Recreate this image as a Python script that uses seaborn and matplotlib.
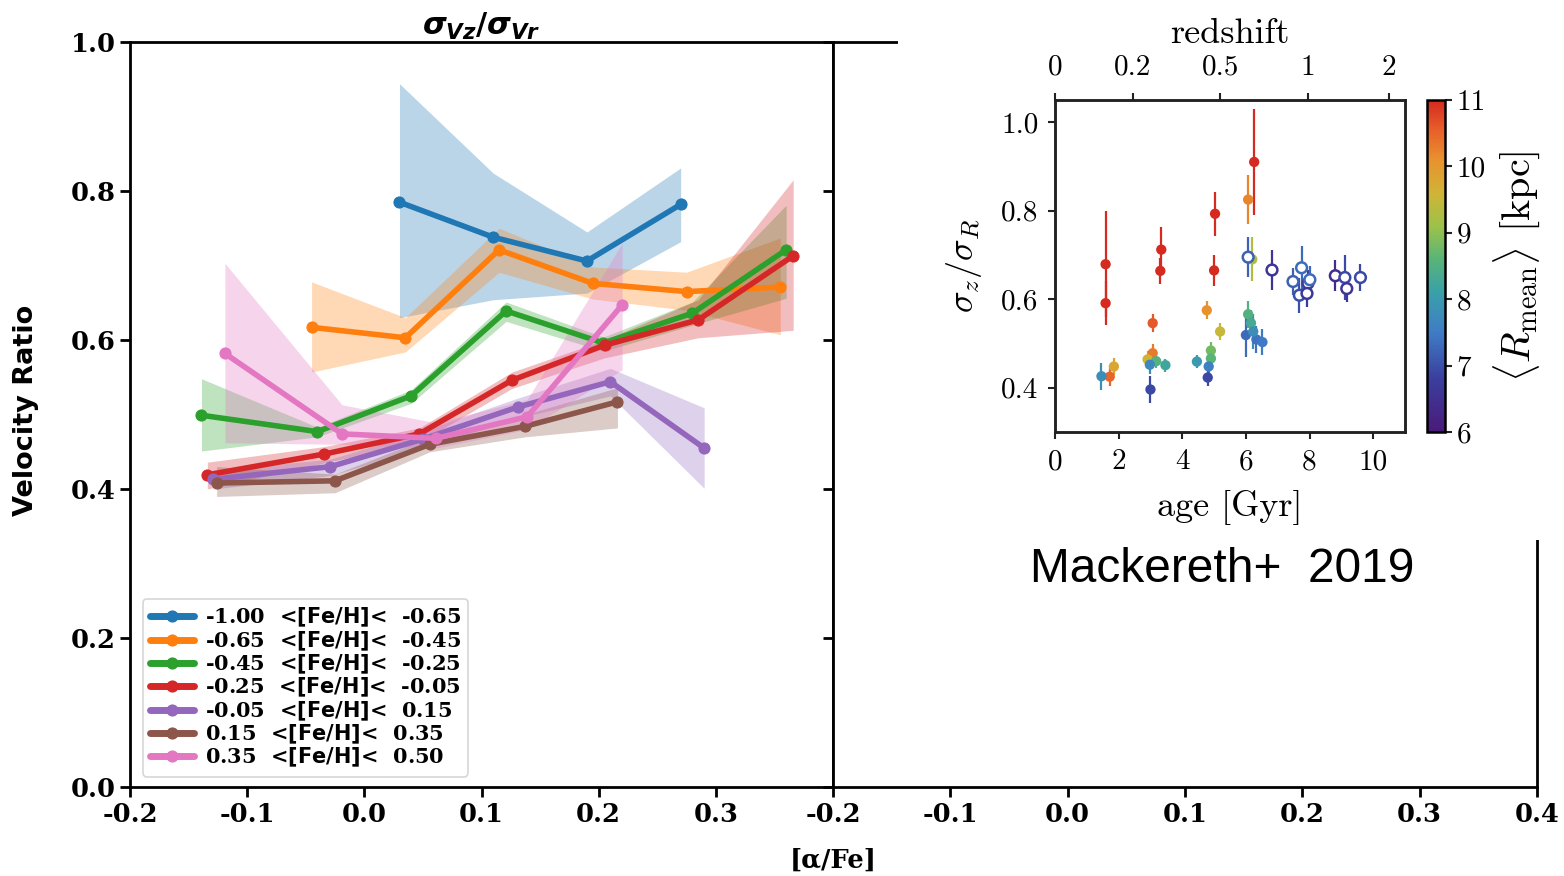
import numpy as np
import pandas as pd
import matplotlib
matplotlib.use("Agg")
import matplotlib.pyplot as plt
import seaborn as sns
from matplotlib.colors import LinearSegmentedColormap, Normalize
from matplotlib.cm import ScalarMappable
from matplotlib.font_manager import FontProperties

# ---------------- data: left panel ----------------
labels = ["-1.00  <$\\mathbf{[Fe/H]}$<  -0.65",
          "-0.65  <$\\mathbf{[Fe/H]}$<  -0.45",
          "-0.45  <$\\mathbf{[Fe/H]}$<  -0.25",
          "-0.25  <$\\mathbf{[Fe/H]}$<  -0.05",
          "-0.05  <$\\mathbf{[Fe/H]}$<  0.15",
          "0.15  <$\\mathbf{[Fe/H]}$<  0.35",
          "0.35  <$\\mathbf{[Fe/H]}$<  0.50"]

afe_1 = [0.03, 0.11, 0.19, 0.27]
ratio_1 = [0.785, 0.738, 0.706, 0.782]
lo_1 = [0.630, 0.654, 0.663, 0.732]
hi_1 = [0.944, 0.824, 0.745, 0.831]

afe_2 = [-0.045, 0.035, 0.115, 0.195, 0.275, 0.355]
ratio_2 = [0.617, 0.603, 0.721, 0.676, 0.665, 0.671]
lo_2 = [0.557, 0.584, 0.691, 0.655, 0.640, 0.607]
hi_2 = [0.678, 0.630, 0.750, 0.698, 0.691, 0.737]

afe_3 = [-0.139, -0.04, 0.04, 0.121, 0.204, 0.28, 0.36]
ratio_3 = [0.499, 0.477, 0.525, 0.639, 0.596, 0.636, 0.721]
lo_3 = [0.451, 0.470, 0.515, 0.625, 0.585, 0.620, 0.656]
hi_3 = [0.548, 0.483, 0.533, 0.651, 0.604, 0.651, 0.781]

afe_4 = [-0.134, -0.034, 0.047, 0.126, 0.205, 0.285, 0.366]
ratio_4 = [0.419, 0.447, 0.474, 0.546, 0.593, 0.627, 0.713]
lo_4 = [0.400, 0.435, 0.463, 0.535, 0.576, 0.603, 0.613]
hi_4 = [0.436, 0.457, 0.482, 0.557, 0.600, 0.654, 0.815]

afe_5 = [-0.129, -0.029, 0.05, 0.131, 0.21, 0.29]
ratio_5 = [0.413, 0.430, 0.467, 0.510, 0.544, 0.455]
lo_5 = [0.400, 0.418, 0.455, 0.495, 0.525, 0.401]
hi_5 = [0.425, 0.440, 0.478, 0.522, 0.562, 0.509]

afe_6 = [-0.126, -0.025, 0.056, 0.137, 0.216]
ratio_6 = [0.408, 0.411, 0.460, 0.484, 0.517]
lo_6 = [0.390, 0.395, 0.450, 0.470, 0.482]
hi_6 = [0.430, 0.420, 0.470, 0.500, 0.536]

afe_7 = [-0.119, -0.019, 0.061, 0.139, 0.22]
ratio_7 = [0.582, 0.474, 0.468, 0.497, 0.647]
lo_7 = [0.462, 0.460, 0.455, 0.480, 0.560]
hi_7 = [0.703, 0.513, 0.489, 0.520, 0.730]

x_ticks_left = [-0.2, -0.1, 0.0, 0.1, 0.2, 0.3]
x_ticks_right = [-0.2, -0.1, 0.0, 0.1, 0.2, 0.3, 0.4]
y_ticks = [0.0, 0.2, 0.4, 0.6, 0.8, 1.0]

# ---------------- data: inset (Mackereth+ 2019) ----------------
filled_age = [1.59, 1.59, 3.34, 3.31, 5.03, 5.0, 6.26, 6.07, 4.77, 3.07, 3.07, 1.72,
              1.85, 5.19, 2.91, 3.47, 4.46, 4.9, 4.9, 3.18, 6.07, 6.16, 6.2, 1.46,
              2.98, 4.83, 6.0, 6.33, 6.52, 6.23, 3.0, 4.8]
filled_ratio = [0.679, 0.591, 0.712, 0.664, 0.793, 0.665, 0.910, 0.825, 0.575, 0.546,
                0.478, 0.425, 0.448, 0.527, 0.464, 0.451, 0.459, 0.484, 0.466, 0.460,
                0.566, 0.546, 0.69, 0.426, 0.452, 0.448, 0.519, 0.509, 0.503, 0.527,
                0.396, 0.423]
filled_err = [0.12, 0.05, 0.05, 0.03, 0.05, 0.035, 0.12, 0.055, 0.02, 0.02, 0.02, 0.02,
              0.02, 0.02, 0.02, 0.015, 0.015, 0.02, 0.02, 0.015, 0.03, 0.03, 0.05, 0.03,
              0.02, 0.02, 0.05, 0.03, 0.03, 0.04, 0.03, 0.02]
filled_r = [11, 11, 11, 11, 11, 11, 11, 10.2, 10.1, 10.6, 10.3, 10.5, 9.8, 9.5, 9.6,
            8.2, 8.0, 8.8, 8.6, 8.5, 8.5, 8.3, 9.3, 7.8, 7.7, 7.6, 7.3, 7.4, 7.5, 7.8,
            6.9, 6.9]

hollow_age = [6.07, 6.82, 7.75, 7.48, 7.68, 7.95, 8.01, 7.92, 8.81, 9.11, 9.17, 9.6]
hollow_ratio = [0.695, 0.666, 0.671, 0.640, 0.609, 0.636, 0.644, 0.613, 0.653, 0.649,
                0.624, 0.649]
hollow_err = [0.045, 0.045, 0.05, 0.03, 0.04, 0.03, 0.03, 0.03, 0.035, 0.05, 0.03, 0.03]
hollow_r = [7.2, 6.6, 7.3, 7.2, 7.0, 6.8, 7.3, 6.7, 6.4, 6.9, 6.6, 6.9]

redshift_labels = ["0", "0.2", "0.5", "1", "2"]
redshift_age = [0.0, 2.45, 5.2, 7.95, 10.5]
age_ticks = [0, 2, 4, 6, 8, 10]
inset_yticks = [0.4, 0.6, 0.8, 1.0]
cbar_ticks = [6, 7, 8, 9, 10, 11]

# ---------------- style ----------------
sns.set_style("ticks")
plt.rcParams["font.family"] = ["DejaVu Serif", "DejaVu Sans"]
plt.rcParams["axes.unicode_minus"] = False
plt.rcParams["mathtext.fontset"] = "custom"
plt.rcParams["mathtext.rm"] = "DejaVu Sans"
plt.rcParams["mathtext.it"] = "DejaVu Sans:bold:italic"
plt.rcParams["mathtext.bf"] = "DejaVu Sans:bold"
for k in ["text.color", "axes.labelcolor", "xtick.color", "ytick.color", "axes.edgecolor"]:
    plt.rcParams[k] = "black"

W, H = 1564, 876
fig = plt.figure(figsize=(W / 100, H / 100), dpi=100)
fig.patch.set_facecolor("white")

ax1 = fig.add_axes([130 / W, 1 - 787 / H, 703 / W, 745 / H])
ax2 = fig.add_axes([833 / W, 1 - 787 / H, 704 / W, 745 / H], sharey=ax1)

colors = sns.color_palette("tab10")
series = [(afe_1, ratio_1, lo_1, hi_1), (afe_2, ratio_2, lo_2, hi_2),
          (afe_3, ratio_3, lo_3, hi_3), (afe_4, ratio_4, lo_4, hi_4),
          (afe_5, ratio_5, lo_5, hi_5), (afe_6, ratio_6, lo_6, hi_6),
          (afe_7, ratio_7, lo_7, hi_7)]

for i, (x, y, lo, hi) in enumerate(series):
    c = colors[i]
    ax1.fill_between(x, lo, hi, color=c, alpha=0.3, lw=0)
    df = pd.DataFrame({"afe": x, "ratio": y})
    sns.lineplot(data=df, x="afe", y="ratio", ax=ax1, color=c, lw=4, marker="o",
                 markersize=8, markeredgecolor=c, label=labels[i])

tick_font = dict(family="DejaVu Serif", weight="bold", size=18.5)
for ax in (ax1, ax2):
    ax.set_xlim(-0.2, 0.4)
    ax.set_ylim(0, 1.0)
    for s in ax.spines.values():
        s.set_linewidth(2)
        s.set_color("black")
        s.set_visible(True)
    ax.tick_params(direction="out", length=7, width=2, color="black", labelcolor="black")
    ax.set_xlabel("")
    ax.set_ylabel("")

ax1.set_xticks(x_ticks_left)
ax1.set_xticklabels([f"{v:.1f}" for v in x_ticks_left], fontdict=tick_font)
ax1.set_yticks(y_ticks)
ax1.set_yticklabels([f"{v:.1f}" for v in y_ticks], fontdict=tick_font)
ax2.set_xticks(x_ticks_right)
ax2.set_xticklabels([f"{v:.1f}" for v in x_ticks_right], fontdict=tick_font)
ax2.tick_params(axis="y", labelleft=False)

ax1.set_ylabel("Velocity Ratio", family="DejaVu Sans", weight="bold", fontsize=19.5)
ax1.yaxis.set_label_coords(-0.13, 0.505)
ax1.set_title(r"$\sigma_{Vz}\mathbf{/}\sigma_{Vr}$", fontsize=22, pad=3)
fig.text(833 / W, 1 - 860 / H, "[α/Fe]", ha="center", va="center",
         family="DejaVu Serif", weight="bold", fontsize=18.5)

leg = ax1.legend(loc="lower left", prop=FontProperties(family="DejaVu Serif", weight="bold", size=15),
                 handlelength=2.1, handletextpad=0.55, labelspacing=0.0, borderpad=0.35,
                 frameon=True, fancybox=True, bbox_to_anchor=(0.003, 0.0))
leg.get_frame().set_edgecolor("#cccccc")
leg.get_frame().set_linewidth(1.2)
for h in leg.legend_handles:
    h.set_linewidth(5)

# ---------------- inset background ----------------
bg = fig.add_axes([898 / W, 1 - 540 / H, 666 / W, 540 / H])
bg.set_facecolor("white")
bg.set_xticks([])
bg.set_yticks([])
for s in bg.spines.values():
    s.set_visible(False)
bg.set_zorder(5)

cmap = LinearSegmentedColormap.from_list(
    "rmean", [(0.0, "#4a1a7a"), (0.16, "#3a3f9e"), (0.3, "#3f7cc6"), (0.42, "#3aa0a8"),
              (0.52, "#58b478"), (0.62, "#9cc24a"), (0.72, "#d0b436"), (0.82, "#e8922e"),
              (0.91, "#e8602a"), (1.0, "#d42a20")])
norm = Normalize(6, 11)

axin = fig.add_axes([1055 / W, 1 - 432 / H, 350 / W, 332 / H])
axin.set_zorder(6)
axin.set_facecolor("white")

for a, r, e, rm in zip(filled_age, filled_ratio, filled_err, filled_r):
    axin.errorbar(a, r, yerr=e, fmt="none", ecolor=cmap(norm(rm)), elinewidth=1.6, capsize=0)
for a, r, e, rm in zip(hollow_age, hollow_ratio, hollow_err, hollow_r):
    axin.errorbar(a, r, yerr=e, fmt="none", ecolor=cmap(norm(rm)), elinewidth=1.6, capsize=0)

sns.scatterplot(x=filled_age, y=filled_ratio, hue=filled_r, palette=cmap, hue_norm=norm,
                s=55, linewidth=0, legend=False, ax=axin, zorder=3)
axin.scatter(hollow_age, hollow_ratio, s=60, facecolors="white",
             edgecolors=[cmap(norm(v)) for v in hollow_r], linewidths=1.8, zorder=3)

inset_font = dict(family="cmr10", size=21)
axin.set_xlim(0, 11)
axin.set_ylim(0.3, 1.05)
axin.set_xticks(age_ticks)
axin.set_xticklabels([str(v) for v in age_ticks], fontdict=inset_font)
axin.set_yticks(inset_yticks)
axin.set_yticklabels([f"{v:.1f}" for v in inset_yticks], fontdict=inset_font)
axin.tick_params(direction="out", length=5, width=1.5, color="#222222", pad=7)
for s in axin.spines.values():
    s.set_linewidth(1.8)
    s.set_color("#222222")
axin.set_xlabel("age [Gyr]", family="cmr10", fontsize=26, labelpad=11)
axin.set_ylabel(r"$\sigma_z/\sigma_R$", fontsize=26, math_fontfamily="cm", labelpad=12)

axtop = axin.twiny()
axtop.set_zorder(6)
axtop.set_xlim(0, 11)
axtop.set_xticks(redshift_age)
axtop.set_xticklabels(redshift_labels, fontdict=inset_font)
axtop.tick_params(direction="out", length=5, width=1.5, color="#222222", pad=9)
axtop.set_xlabel("redshift", family="cmr10", fontsize=26, labelpad=8)
for s in axtop.spines.values():
    s.set_linewidth(1.8)
    s.set_color("#222222")

cax = fig.add_axes([1427 / W, 1 - 432 / H, 18 / W, 332 / H])
cax.set_zorder(6)
sm = ScalarMappable(norm=norm, cmap=cmap)
cb = fig.colorbar(sm, cax=cax)
cb.set_ticks(cbar_ticks)
cb.set_ticklabels([str(v) for v in cbar_ticks])
for t in cax.get_yticklabels():
    t.set_fontfamily("cmr10")
    t.set_fontsize(21)
cax.tick_params(direction="out", length=5, width=1.5, color="#222222")
cb.outline.set_linewidth(1.8)
cb.set_label(r"$\langle R_{\rm mean}\rangle$ [kpc]", family="cmr10", fontsize=29,
             math_fontfamily="cm", labelpad=4)

fig.text(1222 / W, 1 - 570 / H, "Mackereth+  2019", ha="center", va="center",
         fontsize=34.5, family="Liberation Sans", zorder=7)

fig.savefig("out.png", dpi=100, facecolor="white")
